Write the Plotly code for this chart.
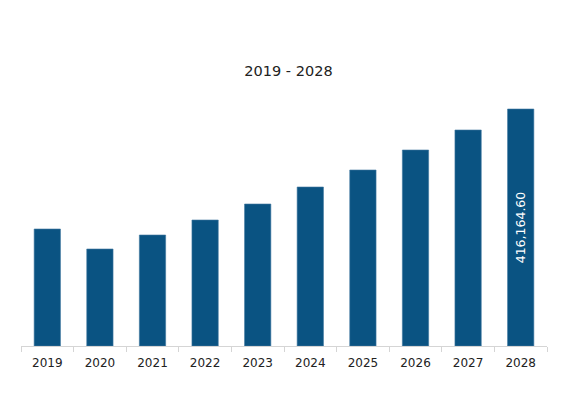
import plotly.graph_objects as go

years = ["2019", "2020", "2021", "2022", "2023", "2024", "2025", "2026", "2027", "2028"]
values = [205450, 170330, 194920, 221260, 249360, 279210, 309060, 344180, 379300, 416164.60]
labels = ["", "", "", "", "", "", "", "", "", "416,164.60"]

fig = go.Figure(go.Bar(
    x=years, y=values, text=labels,
    marker=dict(color="#0a5382", line=dict(color="#3f77a0", width=0.6)),
    width=0.5,
    textposition="inside", textangle=-90, insidetextanchor="middle",
    textfont=dict(color="white", size=12.5, family="DejaVu Sans"),
    hoverinfo="skip",
))

fig.update_layout(
    width=561, height=393,
    margin=dict(l=13, r=22, t=92, b=55),
    paper_bgcolor="white", plot_bgcolor="white",
    title=dict(text="2019 - 2028", x=0.5, xanchor="center", y=1 - 63/393, yanchor="middle",
               font=dict(family="DejaVu Sans", size=14.5, color="#222")),
    showlegend=False,
    font=dict(family="DejaVu Sans", size=12, color="#222"),
)
fig.update_xaxes(showline=True, linecolor="#d5d5d5", linewidth=1,
                 ticks="outside", tickson="boundaries", ticklen=5, tickcolor="#d5d5d5",
                 ticklabelstandoff=6,
                 showgrid=False, tickfont=dict(size=12, color="#222"))
fig.update_yaxes(visible=False, range=[0, 432000], showgrid=False)

fig.write_html("out.html")
